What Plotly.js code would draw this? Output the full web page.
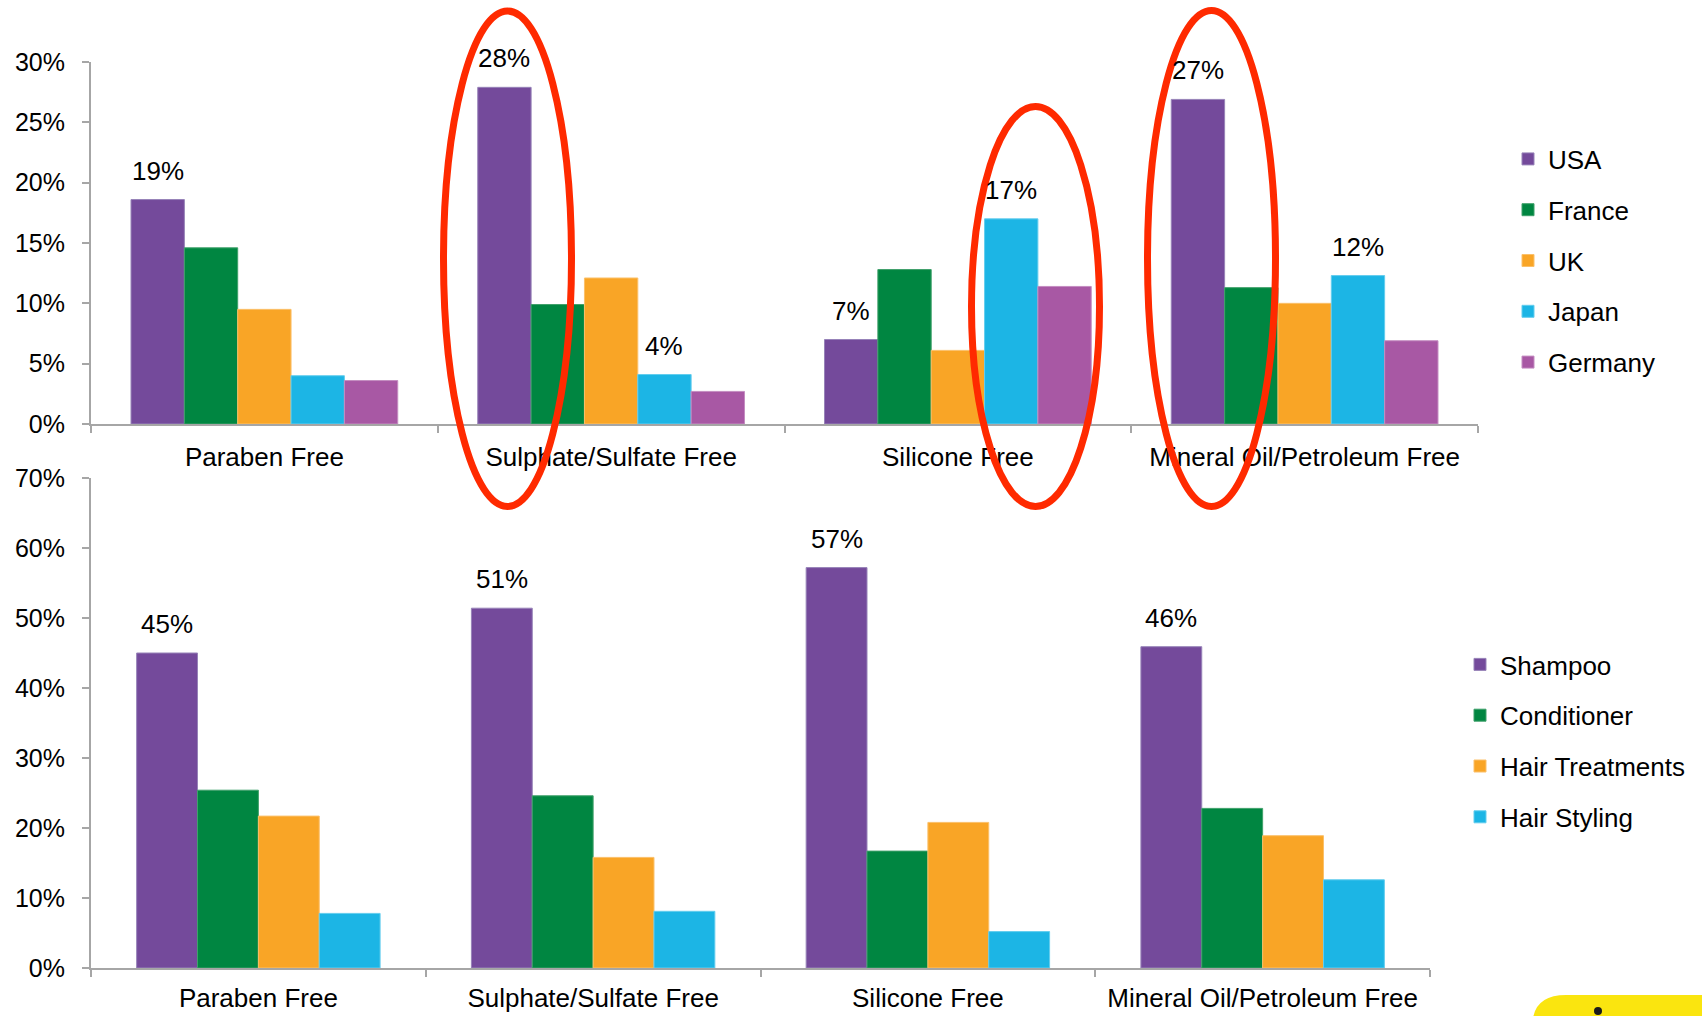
<!DOCTYPE html>
<html>
<head>
<meta charset="utf-8">
<script src="https://cdn.plot.ly/plotly-3.0.1.min.js"></script>
<style>
  html, body { margin: 0; padding: 0; background: #ffffff; overflow: hidden; }
  #chart { width: 1702px; height: 1016px; }
</style>
</head>
<body>
<div id="chart"></div>
<script>
// Free-from claims shown on both panels
const claims = ['Paraben Free', 'Sulphate/Sulfate Free', 'Silicone Free', 'Mineral Oil/Petroleum Free'];

// Upper panel: share of hair care launches by country (%)
const countries = ['USA', 'France', 'UK', 'Japan', 'Germany'];
const usa     = [18.6, 27.9, 7.0, 26.9];
const france  = [14.6, 9.9, 12.8, 11.3];
const uk      = [9.5, 12.1, 6.1, 10.0];
const japan   = [4.0, 4.1, 17.0, 12.3];
const germany = [3.6, 2.7, 11.4, 6.9];

// Lower panel: share of launches by product category (%)
const productTypes   = ['Shampoo', 'Conditioner', 'Hair Treatments', 'Hair Styling'];
const shampoo        = [45.0, 51.4, 57.2, 45.9];
const conditioner    = [25.4, 24.6, 16.7, 22.8];
const hairTreatments = [21.7, 15.8, 20.8, 18.9];
const hairStyling    = [7.8, 8.1, 5.2, 12.6];

// value-axis ticks and their labels
const yTicksTop       = [0, 5, 10, 15, 20, 25, 30];
const yTickLabelsTop  = ['0%', '5%', '10%', '15%', '20%', '25%', '30%'];
const yTicksBottom      = [0, 10, 20, 30, 40, 50, 60, 70];
const yTickLabelsBottom = ['0%', '10%', '20%', '30%', '40%', '50%', '60%', '70%'];

// which bars carry a value label: [series name, claim indices]
const labelsTop    = [['USA', [0, 1, 2, 3]], ['Japan', [1, 2, 3]]];
const labelsBottom = [['Shampoo', [0, 1, 2, 3]]];

// ---------------------------------------------------------------
const W = 1702, H = 1016;
const M = { l: 91, r: 224, t: 62, b: 48 };
const PW = W - M.l - M.r, PH = H - M.t - M.b;
const px = v => (v - M.l) / PW;        // page pixel -> paper x
const py = v => (H - M.b - v) / PH;    // page pixel -> paper y

const FONT = 'Liberation Sans, Arial, Helvetica, sans-serif';
const TEXT_SIZE = 26;
const AXIS_GREY = '#A6A6A6';
const colors = ['#744A9B', '#008641', '#F9A526', '#1CB5E5', '#A858A4'];
const edge = ['#9783B8', '#3FA06A', '#FBC06A', '#63CDEE', '#C48DC1'];
const GAP_RATIO = 1.5;                 // gap between groups, in bar widths

function groupTraces(names, series, xa, ya, legendId) {
  const n = names.length;
  const w = 1 / (n + GAP_RATIO);
  return names.map((name, i) => ({
    type: 'bar',
    name: name,
    x: claims,
    y: series[i],
    xaxis: xa,
    yaxis: ya,
    legend: legendId,
    legendgroup: legendId + '-' + name,
    width: w,
    offset: -n * w / 2 + i * w,
    marker: { color: colors[i], line: { color: edge[i], width: 1 } },
    hovertemplate: name + '<br>%{x}: %{y:.1f}%<extra></extra>'
  }));
}

const topSeries = [usa, france, uk, japan, germany];
const bottomSeries = [shampoo, conditioner, hairTreatments, hairStyling];

const data = [
  ...groupTraces(countries, topSeries, 'x', 'y', 'legend'),
  ...groupTraces(productTypes, bottomSeries, 'x2', 'y2', 'legend2')
];

function valueLabels(names, series, spec, xa, ya) {
  const n = names.length;
  const w = 1 / (n + GAP_RATIO);
  const out = [];
  spec.forEach(([name, idx]) => {
    const s = names.indexOf(name);
    idx.forEach(c => {
      const v = series[s][c];
      out.push({
        xref: xa, yref: ya,
        x: c - n * w / 2 + (s + 0.5) * w,
        y: v,
        yanchor: 'middle', yshift: 29,
        text: Math.round(v) + '%',
        showarrow: false,
        font: { family: FONT, size: TEXT_SIZE, color: '#000000' }
      });
    });
  });
  return out;
}

const annotations = [
  ...valueLabels(countries, topSeries, labelsTop, 'x', 'y'),
  ...valueLabels(productTypes, bottomSeries, labelsBottom, 'x2', 'y2')
];

// red highlight rings around the standout bars
const RING = { color: '#FF2A00', width: 7 };
const ring = (l, r, t, b) => ({
  type: 'circle', xref: 'paper', yref: 'paper', layer: 'above',
  x0: px(l), x1: px(r), y0: py(b), y1: py(t), line: RING
});

const shapes = [
  ring(443.5, 571.5, 11, 506.5),
  ring(971.5, 1099.5, 106.5, 506.5),
  ring(1147.5, 1275.5, 10.5, 506.5),
  // yellow corner tab
  {
    type: 'path', xref: 'paper', yref: 'paper', layer: 'above',
    path: `M ${px(1532)} ${py(1030)} L ${px(1533)} ${py(1018)} Q ${px(1537)} ${py(995)} ${px(1566)} ${py(995)} L ${px(1720)} ${py(995)} L ${px(1720)} ${py(1030)} Z`,
    fillcolor: '#FAE50F', line: { width: 0 }
  },
  {
    type: 'circle', xref: 'paper', yref: 'paper', layer: 'above',
    x0: px(1594), x1: px(1602), y0: py(1015), y1: py(1007),
    fillcolor: '#1A1A1A', line: { width: 0 }
  }
];

const xCommon = {
  type: 'category',
  range: [-0.5, 3.5],
  tickson: 'boundaries',
  ticks: 'outside', ticklen: 7, tickwidth: 2, tickcolor: AXIS_GREY,
  showline: true, linecolor: AXIS_GREY, linewidth: 2,
  showgrid: false, zeroline: false,
  tickfont: { family: FONT, size: TEXT_SIZE, color: '#000000' },
  fixedrange: true
};
const yCommon = {
  tickmode: 'array',
  ticks: 'outside', ticklen: 7, tickwidth: 2, tickcolor: AXIS_GREY,
  ticklabelstandoff: 12,
  showline: true, linecolor: AXIS_GREY, linewidth: 2,
  showgrid: false, zeroline: false,
  tickfont: { family: FONT, size: 25, color: '#000000' },
  fixedrange: true
};

const legendCommon = {
  xanchor: 'left', yanchor: 'middle',
  font: { family: FONT, size: TEXT_SIZE, color: '#000000' },
  bgcolor: 'rgba(0,0,0,0)', borderwidth: 0,
  tracegroupgap: 14, traceorder: 'grouped'
};

const layout = {
  width: W, height: H,
  margin: { l: M.l, r: M.r, t: M.t, b: M.b, pad: 0 },
  paper_bgcolor: '#ffffff', plot_bgcolor: '#ffffff',
  font: { family: FONT, size: TEXT_SIZE, color: '#000000' },
  barmode: 'group',
  showlegend: true,
  xaxis: { ...xCommon, domain: [0, 1], anchor: 'y', ticklabelstandoff: 9 },
  yaxis: { ...yCommon, domain: [py(424), 1], anchor: 'x', range: [0, 30],
           tickvals: yTicksTop, ticktext: yTickLabelsTop },
  xaxis2: { ...xCommon, domain: [0, px(1430)], anchor: 'y2', ticklabelstandoff: 6 },
  yaxis2: { ...yCommon, domain: [0, py(478)], anchor: 'x2', range: [0, 70],
            tickvals: yTicksBottom, ticktext: yTickLabelsBottom },
  legend: { ...legendCommon, x: px(1508), y: py(261) },
  legend2: { ...legendCommon, x: px(1460), y: py(741) },
  annotations: annotations,
  shapes: shapes
};

Plotly.newPlot('chart', data, layout, { displayModeBar: false });
</script>
</body>
</html>
